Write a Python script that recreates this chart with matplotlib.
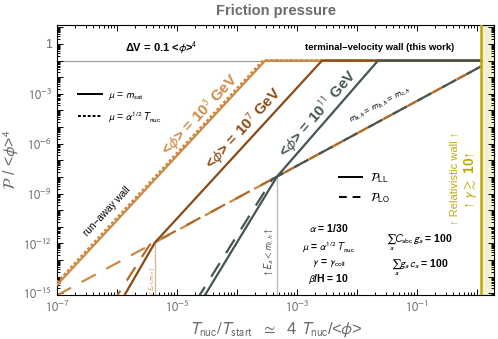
import matplotlib
matplotlib.use("Agg")
import matplotlib.pyplot as plt
from matplotlib.lines import Line2D
from matplotlib.ticker import FixedLocator, FixedFormatter, LogLocator, NullFormatter

plt.rcParams["font.family"] = ["Liberation Sans", "DejaVu Sans"]
plt.rcParams["mathtext.fontset"] = "stixsans"

LIGHT = "#cd8a45"
BROWN = "#8b4a14"
SLATE = "#44564d"
GOLD = "#bcaa08"
GREY = "#6b6b6b"

# axis ranges
X_MIN, X_MAX = 1e-7, 1.92
Y_MIN, Y_MAX = 10 ** -15.1, 10 ** 1.14
WALL_X = 1.17          # relativistic wall, gamma >~ 10
V_TERM = 0.1           # Delta V / <phi>^4

# P_LL, mu = m_sat
ll_3_x = [1e-7, 2.95e-4, WALL_X]
ll_3_y = [3.2e-15, V_TERM, V_TERM]
ll_7_x = [1.29e-6, 4.3e-6, 2.61e-3, WALL_X]
ll_7_y = [6.3e-16, 1.15e-12, V_TERM, V_TERM]
ll_11_x = [2.82e-5, 4.64e-4, 2.24e-2, WALL_X]
ll_11_y = [6.3e-16, 1.05e-8, V_TERM, V_TERM]

# P_LL, mu = alpha^1/2 T_nuc (only distinct for 10^3 GeV)
ll_3_dot_x = [1e-7, 2.72e-4, WALL_X]
ll_3_dot_y = [4.4e-15, V_TERM, V_TERM]

# P_LO
lo_3_x = [1e-7, 4.3e-6, 4.64e-4, WALL_X]
lo_3_y = [7.6e-16, 1.15e-12, 1.05e-8, 4.5e-2]
lo_7_x = [9.8e-7, 3.5e-6, 4.64e-4, WALL_X]
lo_7_y = [6.3e-16, 8.2e-13, 1.05e-8, 4.5e-2]
lo_11_x = [2.3e-5, 3.9e-4, WALL_X]
lo_11_y = [6.3e-16, 7.5e-9, 4.5e-2]

# E_a < m_{l,h} thresholds
thr_x = [4.3e-6, 4.64e-4]
thr_y = [1.15e-12, 1.05e-8]

x_major = [10.0 ** k for k in range(-7, 1)]
x_labels = ["$10^{-7}$", "", "$10^{-5}$", "", "$10^{-3}$", "", "$10^{-1}$", ""]
y_major = [10.0 ** k for k in range(-15, 2)]
y_labels = [("1" if k == 0 else f"$10^{{{k}}}$") if k % 3 == 0 else "" for k in range(-15, 2)]

fig = plt.figure(figsize=(4.98, 3.39), dpi=100)
ax = fig.add_axes([57 / 498, 44 / 339, 437 / 498, 270 / 339])
ax.set_xscale("log")
ax.set_yscale("log")
ax.set_xlim(X_MIN, X_MAX)
ax.set_ylim(Y_MIN, Y_MAX)

# relativistic wall band
ax.axvspan(WALL_X, X_MAX, color="#f4f0d4", zorder=0)
ax.axvline(WALL_X, color=GOLD, lw=1.8, zorder=6)

# terminal velocity line
ax.plot([X_MIN, WALL_X], [V_TERM, V_TERM], color="#9a9a9a", lw=0.8, zorder=1)

# thresholds
ax.plot([thr_x[0], thr_x[0]], [thr_y[0], Y_MIN], color="#d9bc9c", lw=1.0, zorder=1)
ax.plot([thr_x[1], thr_x[1]], [thr_y[1], Y_MIN], color="#bdbdbd", lw=1.0, zorder=1)

dash = (0, (7.2, 5.4))
ax.plot(lo_3_x, lo_3_y, color=LIGHT, lw=1.6, linestyle=dash, zorder=2)
ax.plot(lo_7_x, lo_7_y, color="#b06c2c", lw=1.6, linestyle=(4, (7.2, 5.4)), zorder=2)
ax.plot(lo_11_x, lo_11_y, color=SLATE, lw=1.6, linestyle=(2, (7.2, 5.4)), zorder=3)

ax.plot(ll_3_dot_x, ll_3_dot_y, color=LIGHT, lw=2.0, linestyle=(0, (1, 0.8)), zorder=3)
ax.plot(ll_3_x, ll_3_y, color=LIGHT, lw=1.6, zorder=3)
ax.plot(ll_7_x, ll_7_y, color=BROWN, lw=1.6, zorder=4)
ax.plot(ll_11_x, ll_11_y, color=SLATE, lw=1.6, zorder=5)

# ticks
ax.xaxis.set_major_locator(FixedLocator(x_major))
ax.xaxis.set_major_formatter(FixedFormatter(x_labels))
ax.xaxis.set_minor_locator(LogLocator(base=10, subs=range(2, 10), numticks=100))
ax.xaxis.set_minor_formatter(NullFormatter())
ax.yaxis.set_major_locator(FixedLocator(y_major))
ax.yaxis.set_major_formatter(FixedFormatter(y_labels))
ax.yaxis.set_minor_locator(LogLocator(base=10, subs=range(2, 10), numticks=100))
ax.yaxis.set_minor_formatter(NullFormatter())
ax.tick_params(which="both", direction="in", top=True, right=True, width=0.7,
               labelsize=9, labelcolor=GREY)
ax.tick_params(which="major", length=4.5)
ax.tick_params(which="minor", length=2.2)
for s in ax.spines.values():
    s.set_linewidth(0.8)

ax.set_title("Friction pressure", fontsize=10.5, fontweight="bold", color=GREY, pad=7)
ax.set_xlabel(r"$T_{\rm nuc}/T_{\rm start}$  $\simeq$  4 $T_{\rm nuc}$/<$\phi$>",
              fontsize=12, color=GREY, labelpad=4)
ax.set_ylabel(r"$\mathcal{P}$ / <$\phi$>$^4$", fontsize=11.5, color=GREY)
ax.yaxis.set_label_coords(-0.083, 0.5)

# annotations
ax.text(1.36e-6, 0.62, r"ΔV = 0.1 <$\phi$>$^4$", fontsize=8, fontweight="bold",
        ha="left", va="center")
ax.text(1.36e-3, 0.62, "terminal−velocity wall (this work)", fontsize=6.8,
        fontweight="bold", ha="left", va="center")
ax.text(2.4e-5, 6.0e-5, r"<$\phi$> = 10$^3$ GeV", fontsize=11, fontweight="bold",
        color=LIGHT, rotation=47, ha="center", va="center")
ax.text(1.3e-4, 9.0e-6, r"<$\phi$> = 10$^7$ GeV", fontsize=11, fontweight="bold",
        color=BROWN, rotation=47.5, ha="center", va="center")
ax.text(2.2e-3, 7.0e-5, r"<$\phi$> = 10$^{11}$ GeV", fontsize=11, fontweight="bold",
        color=SLATE, rotation=49, ha="center", va="center")
ax.text(6.8e-7, 8.3e-11, "run−away wall", fontsize=7.2, rotation=47,
        ha="center", va="center")
ax.text(2.4e-2, 2.2e-4, r"$m_{a,h}$ = $m_{b,h}$ = $m_{c,h}$", fontsize=6.5,
        rotation=28, ha="center", va="center")

ax.text(0.486, 0.16, r"$\uparrow E_a < m_{l,h}\uparrow$", transform=ax.transAxes,
        fontsize=7, color=SLATE, rotation=90, ha="center", va="center")
ax.text(0.219, 0.052, r"$\uparrow E_a < m_{l,h}\uparrow$", transform=ax.transAxes,
        fontsize=4, color="#b5875a", rotation=90, ha="center", va="center")

params = [r"$\alpha$ = 1/30", r"$\mu$ = $\alpha^{1/2}\,T_{\rm nuc}$",
          r"$\gamma$ = $\gamma_{\rm coll}$", r"$\beta$/H = 10"]
for txt, yy in zip(params, [0.248, 0.178, 0.119, 0.059]):
    ax.text(0.622, yy, txt, transform=ax.transAxes, fontsize=7.5, fontweight="bold",
            ha="center", va="center")
ax.text(0.829, 0.193, r"$\sum_a C_{\rm abc}\,g_a$ = 100", transform=ax.transAxes,
        fontsize=7.5, fontweight="bold", ha="center", va="center")
ax.text(0.829, 0.100, r"$\sum_a g_a\,c_a$ = 100", transform=ax.transAxes,
        fontsize=7.5, fontweight="bold", ha="center", va="center")

ax.text(0.910, 0.433, "↑ Relativistic wall ↑", transform=ax.transAxes, fontsize=8,
        color=GOLD, rotation=90, ha="center", va="center")
ax.text(0.947, 0.425, r"↑ $\gamma \gtrsim$ 10↑", transform=ax.transAxes, fontsize=10,
        fontweight="bold", color=GOLD, rotation=90, ha="center", va="center")

# legends
mu_handles = [Line2D([], [], color="k", lw=1.4),
              Line2D([], [], color="k", lw=1.4, linestyle=(0, (1.5, 1)))]
leg1 = ax.legend(mu_handles, [r"$\mu$ = $m_{\rm sat}$", r"$\mu$ = $\alpha^{1/2}\,T_{\rm nuc}$"],
                 loc="center left", bbox_to_anchor=(0.048, 0.696), frameon=False,
                 fontsize=7.5, handlelength=2.3, handletextpad=0.6, labelspacing=0.7,
                 borderpad=0, borderaxespad=0)
ax.add_artist(leg1)
p_handles = [Line2D([], [], color="k", lw=1.4),
             Line2D([], [], color="k", lw=1.4, linestyle=(0, (4, 3)))]
ax.legend(p_handles, [r"$\mathcal{P}_{\rm LL}$", r"$\mathcal{P}_{\rm LO}$"],
          loc="center left", bbox_to_anchor=(0.645, 0.396), frameon=False,
          fontsize=8.5, handlelength=2.0, handletextpad=0.6, labelspacing=0.5,
          borderpad=0, borderaxespad=0)

fig.savefig("out.png", dpi=100)
